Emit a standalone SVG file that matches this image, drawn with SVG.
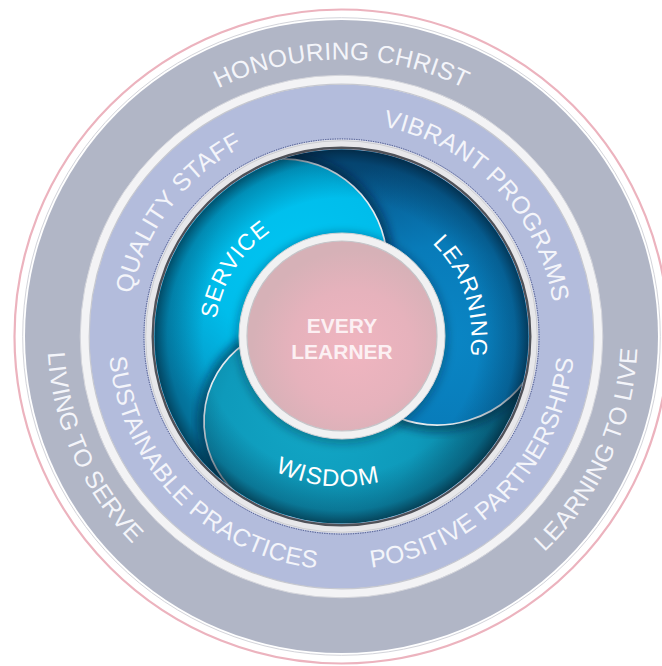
<svg xmlns="http://www.w3.org/2000/svg" width="662" height="666" viewBox="0 0 662 666">
<defs>
<style>
.band{font-family:"Liberation Sans",Arial,Helvetica,sans-serif;font-size:24.5px;fill:#f4f5fa;letter-spacing:0.3px}
.petal{font-family:"Liberation Sans",Arial,Helvetica,sans-serif;font-size:23px;fill:#ffffff;letter-spacing:0.8px}
.core{font-family:"Liberation Sans",Arial,Helvetica,sans-serif;font-size:21px;font-weight:bold;fill:#fcf0f3;text-anchor:middle}
.edge{fill:none;stroke:#e4eaee;stroke-width:1.7}
.shade{fill:none;stroke:#021c33;stroke-opacity:0.5;stroke-width:14;filter:url(#blur)}
</style>
<filter id="blur" x="-30%" y="-30%" width="160%" height="160%"><feGaussianBlur stdDeviation="4"/></filter>
<clipPath id="diskClip"><circle cx="341.5" cy="336.5" r="187"/></clipPath>
<radialGradient id="gSer" gradientUnits="userSpaceOnUse" cx="300" cy="265" r="175">
<stop offset="0" stop-color="#00c5f2"/><stop offset="0.5" stop-color="#00bdeb"/><stop offset="1" stop-color="#0592c0"/></radialGradient>
<radialGradient id="gLea" gradientUnits="userSpaceOnUse" cx="445" cy="340" r="190">
<stop offset="0" stop-color="#0a86c5"/><stop offset="0.5" stop-color="#087bb9"/><stop offset="1" stop-color="#075588"/></radialGradient>
<radialGradient id="gWis" gradientUnits="userSpaceOnUse" cx="320" cy="420" r="180">
<stop offset="0" stop-color="#12a7c6"/><stop offset="0.55" stop-color="#0e9abb"/><stop offset="1" stop-color="#0a7592"/></radialGradient>
<radialGradient id="gRim" gradientUnits="userSpaceOnUse" cx="341.5" cy="336.5" r="187">
<stop offset="0.74" stop-color="#001a33" stop-opacity="0"/><stop offset="0.93" stop-color="#001a33" stop-opacity="0.28"/><stop offset="1" stop-color="#00101f" stop-opacity="0.6"/></radialGradient>
<radialGradient id="gCore" gradientUnits="userSpaceOnUse" cx="352" cy="350" r="100">
<stop offset="0" stop-color="#f0b5c0"/><stop offset="0.6" stop-color="#e6b2bc"/><stop offset="1" stop-color="#d6b1b7"/></radialGradient>
<path id="pHon" d="M64.5,336.5 A277,277 0 0 1 618.5,336.5"/>
<path id="pVib" d="M192.8,182.6 A214,214 0 0 1 490.2,490.4"/>
<path id="pQua" d="M212.7,507.4 A214,214 0 0 1 470.3,165.6"/>
<path id="pSus" d="M178.2,170.3 A233,233 0 0 0 504.8,502.7"/>
<path id="pPos" d="M179.6,504.1 A233,233 0 0 0 503.4,168.9"/>
<path id="pLiv" d="M221.1,66.1 A296,296 0 0 0 461.9,606.9"/>
<path id="pLtl" d="M218.7,605.9 A296,296 0 0 0 464.3,67.1"/>
<path id="pSer" d="M274.2,444.2 A127,127 0 0 1 408.8,228.8"/>
<path id="pLea" d="M300.3,213.2 A130,130 0 0 1 382.7,459.8"/>
<path id="pWis" d="M192.2,321.9 A150,150 0 0 0 490.8,351.1"/>
</defs>

<g id="outer-ring">
<circle cx="341.5" cy="336.5" r="327" fill="#ffffff" stroke="#ecb3be" stroke-width="2.2"/>
<circle cx="341.5" cy="336.5" r="318.8" fill="none" stroke="#d3d4da" stroke-width="1"/>
<circle cx="341.5" cy="336.5" r="316.5" fill="#b1b6c6"/>
</g>

<g id="middle-ring">
<circle cx="341.5" cy="336.5" r="252" fill="#b3bcdc"/>
<circle cx="341.5" cy="336.5" r="256.6" fill="none" stroke="#f3f3f5" stroke-width="9"/>
<circle cx="341.5" cy="336.5" r="261.3" fill="none" stroke="#d5d6dc" stroke-width="1"/>
<circle cx="341.5" cy="336.5" r="252.3" fill="none" stroke="#c6c8d0" stroke-width="1.2"/>
</g>

<g id="petals" clip-path="url(#diskClip)">
<circle id="disk-base" cx="341.5" cy="336.5" r="190" fill="url(#gWis)"/>
<path class="shade" d="M526,378.9 A108,108 0 0 1 397,417.1"/>
<g id="learning-petal" fill="url(#gLea)">
<polygon points="341.5,336.5 179.6,133 341.5,76.5 508.6,137.3 596.3,284.7"/>
<circle cx="437.5" cy="317" r="108"/>
</g>
<path class="shade" d="M268.5,160 A104,104 0 0 1 386,248.5"/>
<g id="service-petal" fill="url(#gSer)">
<polygon points="341.5,336.5 225.1,569 82.9,363.7 179.6,133"/>
<circle cx="283" cy="263" r="104"/>
</g>
<path class="shade" d="M244.5,343.7 A95,95 0 0 0 235.4,492.1"/>
<g id="wisdom-petal">
<circle cx="299" cy="421.5" r="95" fill="url(#gWis)"/>
</g>
<g id="petal-edges">
<path class="edge" d="M268.5,160 A104,104 0 0 1 386,248.5"/>
<path class="edge" d="M526,378.9 A108,108 0 0 1 397,417.1"/>
<path class="edge" d="M244.5,343.7 A95,95 0 0 0 235.4,492.1"/>
</g>
<circle cx="341.5" cy="336.5" r="187" fill="url(#gRim)"/>
<circle cx="342" cy="338" r="106" fill="#001a33" fill-opacity="0.3" filter="url(#blur)"/>
</g>

<g id="disk-rim">
<circle cx="341.5" cy="336.5" r="192.6" fill="none" stroke="#e7e7ea" stroke-width="8.6"/>
<circle cx="341.5" cy="336.5" r="195.8" fill="none" stroke="#cbccd1" stroke-width="1"/>
<circle cx="341.5" cy="336.5" r="188.8" fill="none" stroke="#4f5158" stroke-width="2.4"/>
<circle cx="341.5" cy="336.5" r="197.6" fill="none" stroke="#27346e" stroke-width="0.8" stroke-dasharray="1.2 1.2"/>
</g>

<g id="every-learner">
<circle cx="342" cy="336" r="99" fill="url(#gCore)" stroke="#f1f1f2" stroke-width="8"/>
<circle cx="342" cy="336" r="103" fill="none" stroke="#d0d0d4" stroke-width="1"/>
<circle cx="342" cy="336" r="95" fill="none" stroke="#c5c5c9" stroke-width="1.2"/>
<text class="core" x="342" y="333">EVERY</text>
<text class="core" x="342" y="359">LEARNER</text>
</g>

<g id="petal-labels">
<text class="petal"><textPath href="#pSer" startOffset="50%" text-anchor="middle">SERVICE</textPath></text>
<text class="petal"><textPath href="#pLea" startOffset="50%" text-anchor="middle">LEARNING</textPath></text>
<text class="petal" style="font-size:24px;letter-spacing:1.2px"><textPath href="#pWis" startOffset="50%" text-anchor="middle">WISDOM</textPath></text>
</g>

<g id="middle-labels">
<text class="band"><textPath href="#pVib" startOffset="50%" text-anchor="middle">VIBRANT PROGRAMS</textPath></text>
<text class="band"><textPath href="#pQua" startOffset="50%" text-anchor="middle">QUALITY STAFF</textPath></text>
<text class="band"><textPath href="#pSus" startOffset="50%" text-anchor="middle">SUSTAINABLE PRACTICES</textPath></text>
<text class="band"><textPath href="#pPos" startOffset="50%" text-anchor="middle">POSITIVE PARTNERSHIPS</textPath></text>
</g>

<g id="outer-labels">
<text class="band"><textPath href="#pHon" startOffset="50%" text-anchor="middle">HONOURING CHRIST</textPath></text>
<text class="band"><textPath href="#pLiv" startOffset="50%" text-anchor="middle">LIVING TO SERVE</textPath></text>
<text class="band"><textPath href="#pLtl" startOffset="50%" text-anchor="middle">LEARNING TO LIVE</textPath></text>
</g>
</svg>
